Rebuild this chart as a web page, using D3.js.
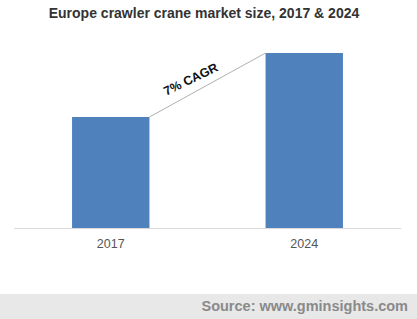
<!DOCTYPE html>
<html>
<head>
<meta charset="utf-8">
<script src="https://cdn.jsdelivr.net/npm/d3@7"></script>
<style>
  body { margin: 0; background: #fff; }
  svg { display: block; font-family: Arial, "Liberation Sans", sans-serif; }
</style>
</head>
<body>
<div id="chart"></div>
<script>
// data (relative market size)
const years = ["2017", "2024"];
const values = [1.11, 1.75];
const cagrLabel = "7% CAGR";

const width = 417, height = 319;
const svg = d3.select("#chart").append("svg")
    .attr("width", width)
    .attr("height", height);

const x = d3.scaleBand()
    .domain(years)
    .range([14, 401])
    .paddingInner(0.6)
    .paddingOuter(0.3);

const y = d3.scaleLinear()
    .domain([0, 1.75])
    .range([228, 53]);

// title
svg.append("text")
    .attr("x", 204)
    .attr("y", 18)
    .attr("text-anchor", "middle")
    .attr("font-size", 14)
    .attr("font-weight", "bold")
    .attr("fill", "#333")
    .text("Europe crawler crane market size, 2017 & 2024");

// bars
svg.selectAll("rect.bar")
    .data(values)
    .enter()
    .append("rect")
    .attr("class", "bar")
    .attr("x", (d, i) => x(years[i]))
    .attr("y", d => y(d))
    .attr("width", x.bandwidth())
    .attr("height", d => y(0) - y(d))
    .attr("fill", "#4f81bd");

// baseline
svg.append("line")
    .attr("x1", 14).attr("x2", 401)
    .attr("y1", y(0) + 0.5).attr("y2", y(0) + 0.5)
    .attr("stroke", "#d9d9d9");

// x axis labels
const xAxis = d3.axisBottom(x).tickSize(0).tickPadding(10);
const gx = svg.append("g")
    .attr("transform", `translate(0,${y(0) + 1})`)
    .call(xAxis);
gx.select(".domain").remove();
gx.selectAll("text")
    .attr("font-size", 12.5)
    .attr("fill", "#555")
    .attr("font-family", "Arial, 'Liberation Sans', sans-serif");

// CAGR connector line
const x1 = x(years[0]) + x.bandwidth(), y1 = y(values[0]);
const x2 = x(years[1]), y2 = y(values[1]);
svg.append("line")
    .attr("x1", x1).attr("y1", y1)
    .attr("x2", x2).attr("y2", y2)
    .attr("stroke", "#b0b0b0")
    .attr("stroke-width", 1);

const angle = Math.atan2(y2 - y1, x2 - x1) * 180 / Math.PI;
svg.append("text")
    .attr("transform", `translate(${(x1 + x2) / 2 - 15},${(y1 + y2) / 2 - 2}) rotate(${angle + 3})`)
    .attr("text-anchor", "middle")
    .attr("font-size", 12.5)
    .attr("font-weight", "bold")
    .attr("fill", "#111")
    .text(cagrLabel);

// footer band
svg.append("rect")
    .attr("x", 0).attr("y", 294)
    .attr("width", width).attr("height", 25)
    .attr("fill", "#e8e8e8");

svg.append("text")
    .attr("x", 408)
    .attr("y", 311)
    .attr("text-anchor", "end")
    .attr("font-size", 14.5)
    .attr("font-weight", "bold")
    .attr("fill", "#8a8a8a")
    .text("Source: www.gminsights.com");
</script>
</body>
</html>
